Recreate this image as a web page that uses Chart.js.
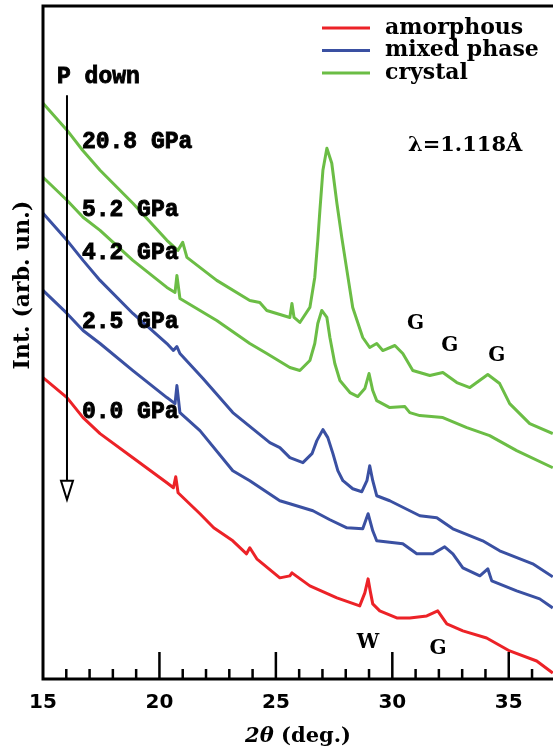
<!DOCTYPE html>
<html>
<head>
<meta charset="utf-8">
<script src="https://cdn.jsdelivr.net/npm/chart.js@4/dist/chart.umd.min.js"></script>
<style>
  html, body { margin: 0; padding: 0; background: #fff; }
  #wrap { width: 553px; height: 750px; }
</style>
</head>
<body>
<div id="wrap"><canvas id="xrd"></canvas></div>
<script>
// 2theta (deg.) and intensity (arb. un., already offset) for each pattern
const theta208 = [15.0, 16.03, 16.7, 17.45, 18.86, 20.32, 20.79, 21.0, 21.18, 22.46, 23.88, 24.31, 24.61, 25.6, 25.69, 25.78, 26.03, 26.46, 26.67, 26.8, 26.89, 27.02, 27.19, 27.4, 27.62, 27.83, 28.05, 28.3, 28.73, 29.03, 29.33, 29.59, 30.11, 30.45, 30.88, 31.61, 32.17, 32.77, 33.33, 34.1, 34.61, 35.04, 35.9, 36.89];
const int208   = [575, 548, 528, 508, 475, 438, 428, 436, 421, 398, 378, 376, 368, 361, 375, 361, 356, 371, 401, 438, 468, 508, 530, 515, 475, 441, 408, 371, 341, 331, 335, 328, 333, 325, 308, 303, 306, 296, 291, 304, 295, 275, 255, 245];

const theta52 = [15.0, 16.03, 16.72, 17.45, 18.86, 20.32, 20.67, 20.75, 20.88, 22.46, 23.88, 24.61, 25.6, 26.03, 26.46, 26.67, 26.8, 26.97, 27.19, 27.32, 27.53, 27.75, 28.18, 28.52, 28.82, 29.0, 29.16, 29.33, 29.89, 30.54, 30.75, 31.18, 32.17, 33.2, 34.18, 35.34, 36.89];
const int52   = [501, 478, 461, 448, 418, 391, 386, 403, 380, 358, 335, 325, 311, 308, 318, 335, 355, 368, 361, 341, 315, 298, 286, 282, 290, 305, 288, 278, 271, 272, 266, 263, 261, 251, 243, 228, 211];

const theta42 = [15.0, 16.03, 16.72, 17.45, 18.86, 20.32, 20.6, 20.75, 20.88, 21.87, 23.15, 24.74, 25.17, 25.6, 26.16, 26.55, 26.76, 27.02, 27.23, 27.45, 27.66, 27.88, 28.3, 28.69, 28.91, 29.03, 29.16, 29.33, 29.89, 30.75, 31.18, 31.91, 32.6, 33.88, 34.61, 36.03, 36.89];
const int42   = [465, 438, 418, 398, 365, 335, 328, 332, 325, 300, 266, 236, 231, 221, 216, 225, 238, 249, 241, 225, 208, 198, 190, 187, 198, 213, 198, 183, 178, 168, 163, 161, 150, 138, 128, 115, 102];

const theta25 = [15.0, 16.03, 16.72, 17.45, 18.86, 20.32, 20.67, 20.75, 20.88, 21.74, 23.15, 23.88, 25.17, 25.6, 26.59, 27.32, 28.05, 28.73, 28.96, 29.16, 29.33, 30.45, 31.05, 31.74, 32.25, 32.6, 33.03, 33.76, 34.1, 34.27, 35.34, 36.33, 36.89];
const int25   = [388, 365, 348, 335, 308, 281, 275, 293, 266, 248, 208, 198, 178, 175, 168, 159, 151, 150, 165, 148, 138, 135, 125, 125, 132, 125, 111, 103, 110, 98, 88, 80, 71];

const theta00 = [15.0, 16.03, 16.72, 17.45, 18.86, 20.32, 20.6, 20.7, 20.8, 21.74, 22.33, 23.15, 23.74, 23.88, 24.18, 25.17, 25.6, 25.69, 26.46, 27.62, 28.6, 28.82, 28.96, 29.05, 29.16, 29.46, 30.19, 30.75, 31.48, 31.95, 32.34, 33.03, 34.05, 35.04, 36.2, 36.89];
const int00   = [301, 281, 261, 245, 221, 196, 191, 202, 186, 165, 151, 138, 125, 131, 120, 101, 103, 106, 93, 81, 73, 86, 100, 88, 75, 68, 61, 61, 63, 68, 55, 48, 41, 28, 18, 6];

const phases = ['amorphous', 'mixed phase', 'crystal'];
const phaseColors = ['#ec2227', '#3a50a2', '#6bbd45'];

const xTicks = [15, 20, 25, 30, 35];

function zip(xs, ys) {
    return xs.map((x, i) => ({ x: x, y: ys[i] }));
}

function pattern(xs, ys, phase) {
    return {
        label: phases[phase],
        data: zip(xs, ys),
        showLine: true,
        borderColor: phaseColors[phase],
        borderWidth: 3,
        borderJoinStyle: 'round',
        pointRadius: 0,
        tension: 0
    };
}

// pressure labels, arrow and peak markers, placed in data units
const pressureText = ['20.8 GPa', '5.2 GPa', '4.2 GPa', '2.5 GPa', '0.0 GPa'];
const pressureY = [536, 468, 425, 356, 266];
const peakText = ['G', 'G', 'G', 'W', 'G'];
const peakX = [31.0, 32.47, 34.49, 28.95, 31.96];
const peakY = [355, 333, 323, 36, 30];

const serifBold = 'bold 21px "DejaVu Serif"';
const monoBold = 'bold 23px "Liberation Mono"';

// heavier mono text: fill plus a thin outline
function heavyText(ctx, s, x, y) {
    ctx.fillText(s, x, y);
    ctx.strokeText(s, x, y);
}

const framePlugin = {
    id: 'frame',
    afterDraw(chart) {
        const ctx = chart.ctx;
        const a = chart.chartArea;
        const xs = chart.scales.x;
        const ys = chart.scales.y;
        ctx.save();
        ctx.strokeStyle = '#000';
        ctx.lineCap = 'butt';

        // box: left, bottom and top edges
        ctx.lineWidth = 3;
        ctx.beginPath();
        ctx.moveTo(a.left, a.top);
        ctx.lineTo(a.left, a.bottom);
        ctx.moveTo(a.left - 1.5, a.bottom);
        ctx.lineTo(a.right, a.bottom);
        ctx.moveTo(a.left - 1.5, a.top);
        ctx.lineTo(a.right, a.top);
        ctx.stroke();

        // inward ticks, major every 5 deg, minor every 1 deg
        ctx.lineWidth = 2.5;
        ctx.beginPath();
        for (let t = 16; t <= 36; t++) {
            const px = xs.getPixelForValue(t);
            const len = (t % 5 === 0) ? 27 : 10;
            ctx.moveTo(px, a.bottom);
            ctx.lineTo(px, a.bottom - len);
        }
        ctx.stroke();

        // axis titles
        ctx.fillStyle = '#000';
        ctx.textBaseline = 'middle';
        ctx.font = 'italic bold 21px "DejaVu Serif"';
        const w1 = ctx.measureText('2θ').width;
        ctx.font = serifBold;
        const w2 = ctx.measureText(' (deg.)').width;
        const cx = (a.left + a.right) / 2;
        let tx = cx - (w1 + w2) / 2;
        ctx.textAlign = 'left';
        ctx.font = 'italic bold 21px "DejaVu Serif"';
        ctx.fillText('2θ', tx, 737);
        ctx.font = serifBold;
        ctx.fillText(' (deg.)', tx + w1, 737);

        ctx.save();
        ctx.translate(23, 285);
        ctx.rotate(-Math.PI / 2);
        ctx.textAlign = 'center';
        ctx.font = 'bold 22px "DejaVu Serif"';
        ctx.fillText('Int. (arb. un.)', 0, 0);
        ctx.restore();

        // legend
        ctx.font = 'bold 22px "DejaVu Serif"';
        ctx.textAlign = 'left';
        phases.forEach((name, i) => {
            const ly = 28 + i * 22.5;
            ctx.strokeStyle = phaseColors[i];
            ctx.lineWidth = 3;
            ctx.beginPath();
            ctx.moveTo(322, ly);
            ctx.lineTo(370, ly);
            ctx.stroke();
            ctx.fillText(name, 385, ly);
        });

        // wavelength
        ctx.font = serifBold;
        ctx.fillText('λ=1.118Å', xs.getPixelForValue(30.67), ys.getPixelForValue(533));

        // peak assignments
        ctx.font = 'bold 20px "DejaVu Serif"';
        ctx.textAlign = 'center';
        peakText.forEach((s, i) => {
            ctx.fillText(s, xs.getPixelForValue(peakX[i]), ys.getPixelForValue(peakY[i]));
        });

        // pressure labels
        ctx.font = monoBold;
        ctx.textAlign = 'left';
        ctx.strokeStyle = '#000';
        ctx.lineWidth = 0.9;
        heavyText(ctx, 'P down', xs.getPixelForValue(15.6), ys.getPixelForValue(601));
        pressureText.forEach((s, i) => {
            heavyText(ctx, s, xs.getPixelForValue(16.67), ys.getPixelForValue(pressureY[i]));
        });

        // pressure arrow with open head
        const ax = xs.getPixelForValue(16.03);
        const aTop = ys.getPixelForValue(583);
        const aHead = ys.getPixelForValue(198);
        const aTip = ys.getPixelForValue(179);
        ctx.lineWidth = 2;
        ctx.beginPath();
        ctx.moveTo(ax, aTop);
        ctx.lineTo(ax, aHead);
        ctx.stroke();
        ctx.beginPath();
        ctx.moveTo(ax - 6, aHead);
        ctx.lineTo(ax + 6, aHead);
        ctx.lineTo(ax, aTip);
        ctx.closePath();
        ctx.fillStyle = '#fff';
        ctx.fill();
        ctx.stroke();

        ctx.restore();
    }
};

new Chart(document.getElementById('xrd'), {
    type: 'scatter',
    data: {
        datasets: [
            pattern(theta208, int208, 2),
            pattern(theta52, int52, 2),
            pattern(theta42, int42, 1),
            pattern(theta25, int25, 1),
            pattern(theta00, int00, 0)
        ]
    },
    options: {
        responsive: true,
        maintainAspectRatio: false,
        animation: false,
        layout: { padding: { left: 43, right: 0, top: 6, bottom: 23 } },
        plugins: {
            legend: { display: false },
            tooltip: { enabled: false }
        },
        scales: {
            x: {
                type: 'linear',
                min: 15,
                max: 36.9,
                afterBuildTicks: (scale) => {
                    scale.ticks = xTicks.map(v => ({ value: v }));
                },
                grid: { display: false, drawTicks: false },
                border: { display: false },
                ticks: {
                    padding: 12,
                    color: '#000',
                    font: { family: 'DejaVu Sans', size: 20, weight: 'bold' },
                    maxRotation: 0
                }
            },
            y: {
                display: false,
                min: 0,
                max: 672
            }
        }
    },
    plugins: [framePlugin]
});
</script>
</body>
</html>
